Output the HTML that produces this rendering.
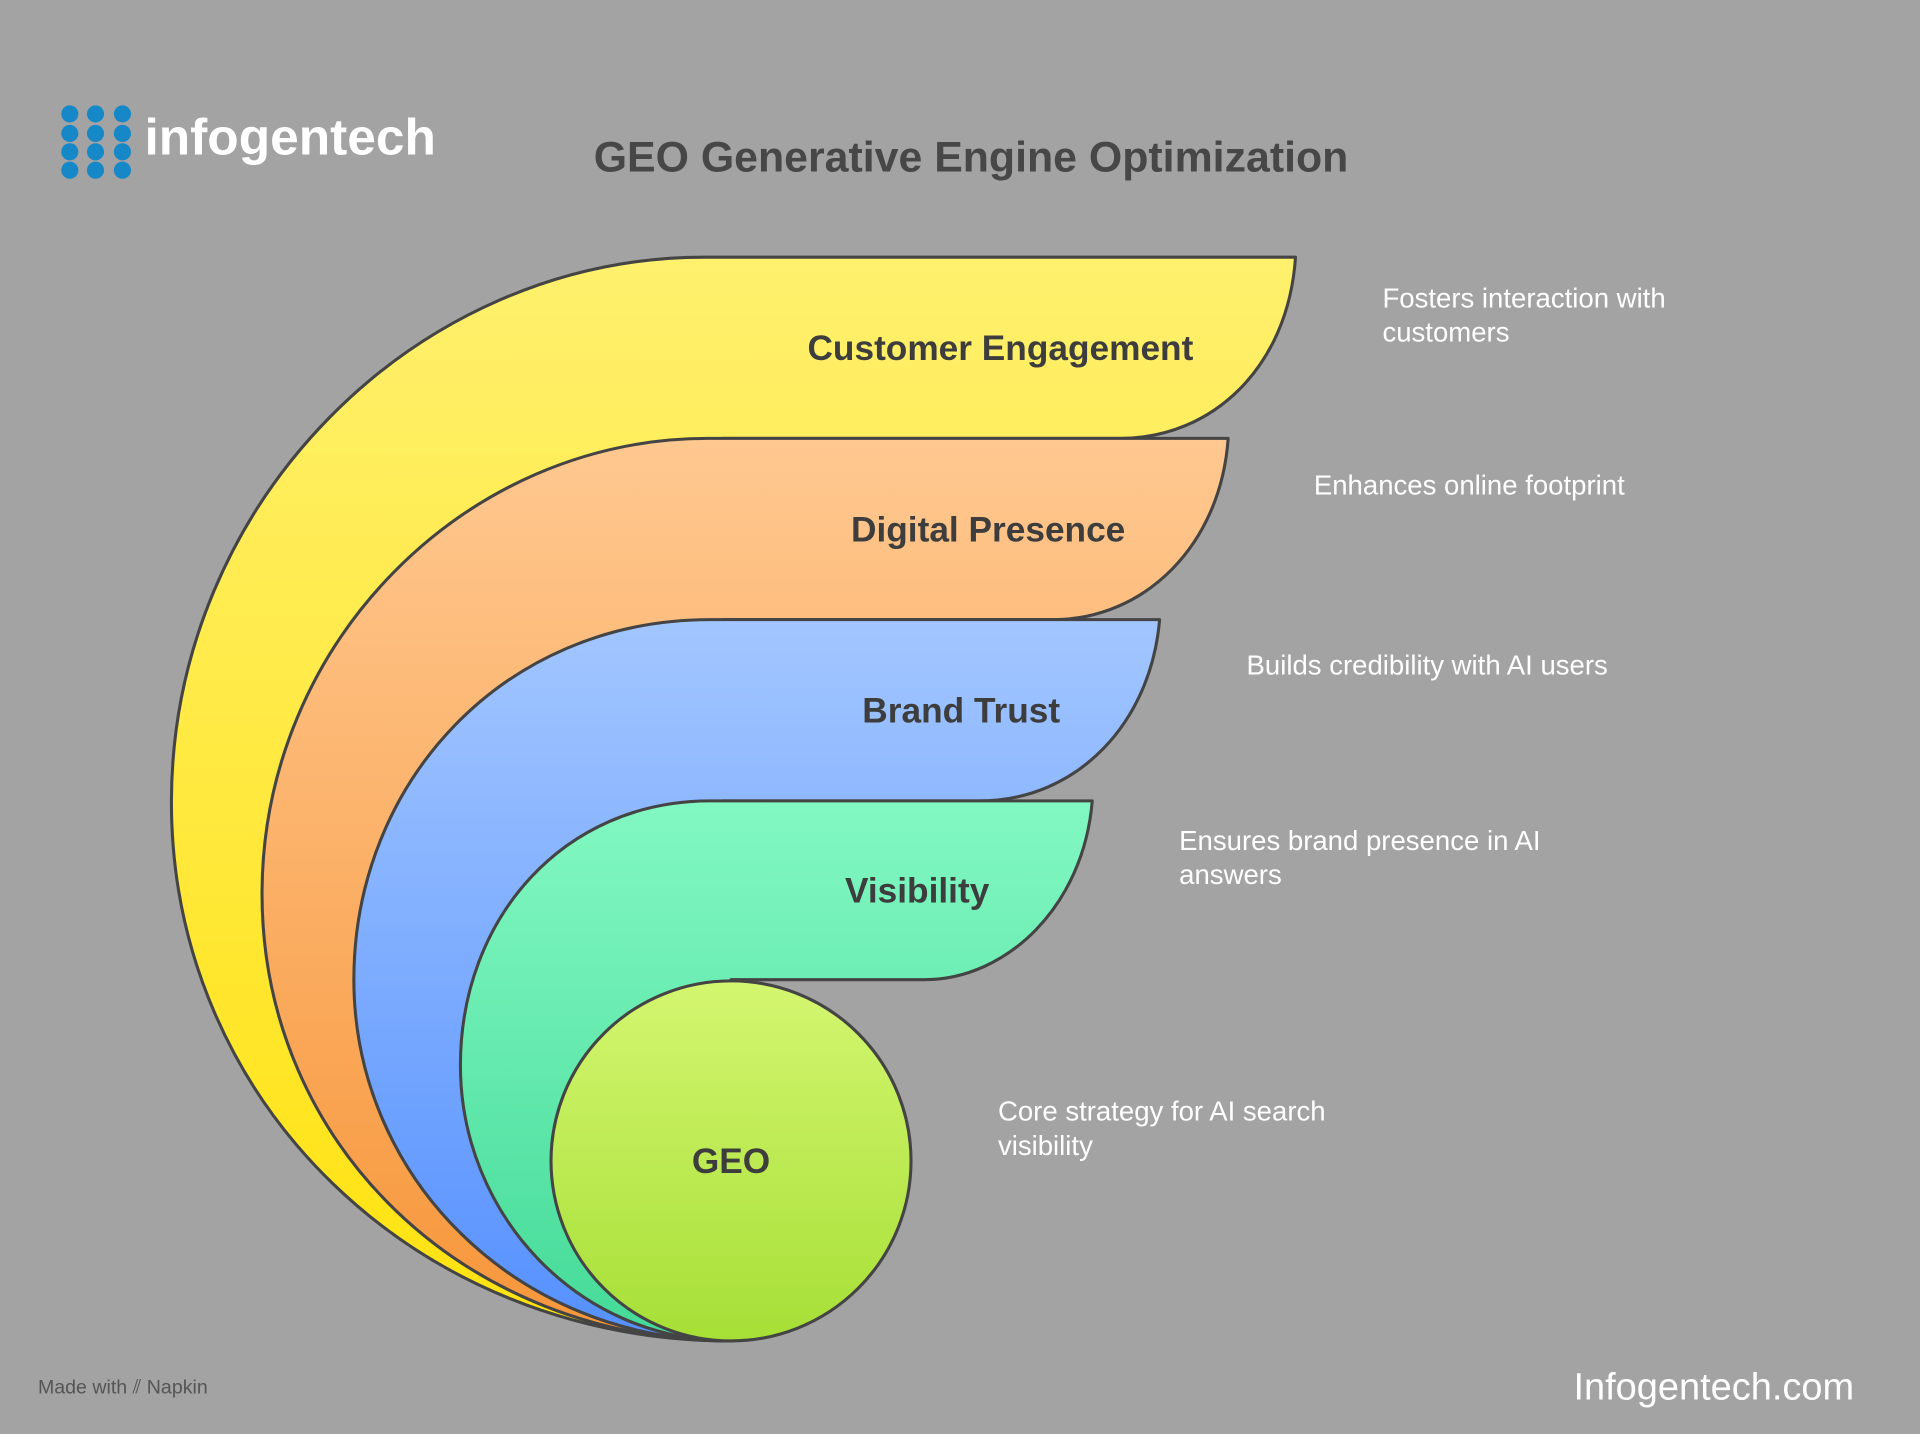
<!DOCTYPE html>
<html><head><meta charset="utf-8"><style>
html,body{margin:0;padding:0;background:#a3a3a3;}
svg{display:block;}
text{font-family:"Liberation Sans",sans-serif;}
</style></head><body>
<svg width="1920" height="1434" viewBox="0 0 1568 1171" preserveAspectRatio="none" xmlns="http://www.w3.org/2000/svg">
<defs>
<linearGradient id="gy" x1="0" y1="0" x2="0" y2="1"><stop offset="0" stop-color="#fff06e"/><stop offset="1" stop-color="#ffe20e"/></linearGradient>
<linearGradient id="go" x1="0" y1="0" x2="0" y2="1"><stop offset="0" stop-color="#ffc890"/><stop offset="1" stop-color="#f7963a"/></linearGradient>
<linearGradient id="gb" x1="0" y1="0" x2="0" y2="1"><stop offset="0" stop-color="#a2c6ff"/><stop offset="1" stop-color="#5590ff"/></linearGradient>
<linearGradient id="gg" x1="0" y1="0" x2="0" y2="1"><stop offset="0" stop-color="#82f8c2"/><stop offset="1" stop-color="#44da98"/></linearGradient>
<linearGradient id="gl" x1="0" y1="0" x2="0" y2="1"><stop offset="0" stop-color="#d4f670"/><stop offset="1" stop-color="#a6df36"/></linearGradient>
</defs>
<rect width="1568" height="1171" fill="#a3a3a3"/>
<g fill="#1688c8">
<circle cx="57" cy="93" r="7"/><circle cx="78" cy="93" r="7"/><circle cx="100" cy="93" r="7"/>
<circle cx="57" cy="109" r="7"/><circle cx="78" cy="109" r="7"/><circle cx="100" cy="109" r="7"/>
<circle cx="57" cy="124" r="7"/><circle cx="78" cy="124" r="7"/><circle cx="100" cy="124" r="7"/>
<circle cx="57" cy="139" r="7"/><circle cx="78" cy="139" r="7"/><circle cx="100" cy="139" r="7"/>
</g>
<text x="118" y="126" font-size="42" font-weight="bold" fill="#fff">infogentech</text>
<text x="793" y="140" font-size="35" font-weight="bold" fill="#474747" text-anchor="middle">GEO Generative Engine Optimization</text>
<g stroke="#444" stroke-width="2.5" stroke-linejoin="round">
<path d="M575 210 L1058 210 C1052 300 990 358 915 358 L590 358 L597 1095 C340 1095 140 900 140 655 C140 410 340 210 575 210 Z" fill="url(#gy)"/>
<path d="M578 358 L1003 358 C997 445 935 506 860 506 L590 506 L597 1095 C380 1095 214 935 214 730 C214 525 380 358 578 358 Z" fill="url(#go)"/>
<path d="M580 506 L947 506 C940 590 880 654 800 654 L590 654 L597 1095 C420 1095 289 960 289 800 C289 640 410 506 580 506 Z" fill="url(#gb)"/>
<path d="M580 654 L892 654 C885 740 822 800 755 800 L597 800 L597 1095 C470 1095 376 990 376 870 C376 750 460 654 580 654 Z" fill="url(#gg)"/>
<ellipse cx="597" cy="948" rx="147" ry="147" fill="url(#gl)"/>
</g>
<g font-size="28.8" font-weight="bold" fill="#3d3d3d" text-anchor="middle">
<text x="817" y="294">Customer Engagement</text>
<text x="807" y="442">Digital Presence</text>
<text x="785" y="590">Brand Trust</text>
<text x="749" y="737">Visibility</text>
<text x="597" y="958">GEO</text>
</g>
<g font-size="22.5" fill="#fff">
<text x="1129" y="251">Fosters interaction with</text>
<text x="1129" y="279">customers</text>
<text x="1073" y="404">Enhances online footprint</text>
<text x="1018" y="551">Builds credibility with AI users</text>
<text x="963" y="694">Ensures brand presence in AI</text>
<text x="963" y="722">answers</text>
<text x="815" y="915">Core strategy for AI search</text>
<text x="815" y="943">visibility</text>
</g>
<text x="31" y="1138" font-size="16" fill="#555">Made with ⫽ Napkin</text>
<text x="1285" y="1143" font-size="31" fill="#fff">Infogentech.com</text>
</svg>
</body></html>
